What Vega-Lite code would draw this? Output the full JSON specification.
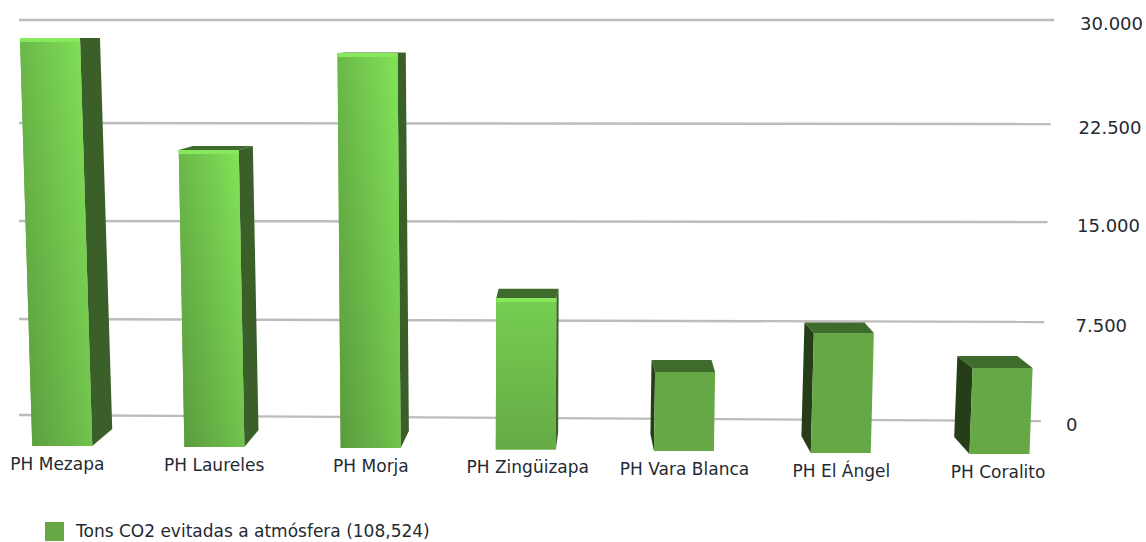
{
"$schema":"https://vega.github.io/schema/vega-lite/v6.json",
"width":1146,"height":542,"padding":0,"autosize":"none","background":"white",
"config":{"view":{"stroke":null},"axis":{"domain":false,"ticks":false}},
"datasets":{
"bars":[
{"p":"PH Mezapa","v":28689,"b":-2422,"s":"Tons CO2 evitadas a atmósfera (108,524)"},
{"p":"PH Laureles","v":20434,"b":-2500,"s":"Tons CO2 evitadas a atmósfera (108,524)"},
{"p":"PH Morja","v":27597,"b":-2578,"s":"Tons CO2 evitadas a atmósfera (108,524)"},
{"p":"PH Zingüizapa","v":9107,"b":-2690,"s":"Tons CO2 evitadas a atmósfera (108,524)"},
{"p":"PH Vara Blanca","v":3359,"b":-2812,"s":"Tons CO2 evitadas a atmósfera (108,524)"},
{"p":"PH El Ángel","v":6406,"b":-2969,"s":"Tons CO2 evitadas a atmósfera (108,524)"},
{"p":"PH Coralito","v":3672,"b":-3047,"s":"Tons CO2 evitadas a atmósfera (108,524)"}],
"grid":[
{"tick":30000,"end":30000,"label":"30.000"},
{"tick":22500,"end":22423,"label":"22.500"},
{"tick":15000,"end":14923,"label":"15.000"},
{"tick":7500,"end":7266,"label":"7.500"},
{"tick":0,"end":-469,"label":"0"}]
},
"layer":[
{"data":{"name":"grid"},"mark":{"type":"rule","color":"#bcbcbc","strokeWidth":2.4},
 "encoding":{"y":{"field":"tick","type":"quantitative","scale":{"domain":[0,7500,15000,22500,30000],"range":[415,319,221,123,20],"nice":false,"zero":false},"axis":null},
 "y2":{"field":"end"},"x":{"value":19},"x2":{"value":{"expr":"1041+datum.tick/30000*13"}}}},
{"data":{"name":"grid"},"mark":{"type":"text","align":"left","baseline":"middle","font":"DejaVu Sans","fontSize":18,"color":"#1f2a33","dy":5,"dx":{"expr":"datum.tick==0?-8:datum.tick/30000*6"}},
 "encoding":{"y":{"field":"end","type":"quantitative","axis":null},"x":{"value":1074},"text":{"field":"label"}}},
{"data":{"name":"bars"},"mark":{"type":"point","filled":true,"size":4,"opacity":1,"fill":{"expr":"scale('x',datum.p)+79.4<590?'#3a5f28':'#263e18'"},
 "shape":{"expr":"'M'+((scale('x',datum.p)+79.4)<590?30:-30)+' 0L'+(((scale('x',datum.p)+79.4)<590?30:-30)+(590-(scale('x',datum.p)+79.4))*0.037)+' '+(-(scale('y',datum.v)-38)*0.036)+'L'+(((scale('x',datum.p)+79.4)<590?30:-30)+(590-(scale('x',datum.p)+79.4))*0.037+(scale('y',datum.b)-scale('y',datum.v))*(480-(scale('x',datum.p)+79.4))*0.00007)+' '+((scale('y',datum.b)-scale('y',datum.v))-17)+'L'+(((scale('x',datum.p)+79.4)<590?30:-30)+(scale('y',datum.b)-scale('y',datum.v))*(480-(scale('x',datum.p)+79.4))*0.00007)+' '+(scale('y',datum.b)-scale('y',datum.v))+'Z'"}},
 "encoding":{"x":{"field":"p","type":"nominal","sort":null,"scale":{"type":"band","range":[-29.4,1082],"paddingInner":0,"paddingOuter":0},"axis":null},
 "y":{"field":"v","type":"quantitative","axis":null},"detail":{"field":"b"}}},
{"data":{"name":"bars"},"mark":{"type":"point","filled":true,"size":4,"opacity":1,"fill":"#3f6b2c",
 "shape":{"expr":"'M-30 0L30 0L'+(30+(590-(scale('x',datum.p)+79.4))*0.037)+' '+(-(scale('y',datum.v)-38)*0.036)+'L'+(-30+(590-(scale('x',datum.p)+79.4))*0.037)+' '+(-(scale('y',datum.v)-38)*0.036)+'Z'"}},
 "encoding":{"x":{"field":"p","type":"nominal","sort":null,"axis":null},"y":{"field":"v","type":"quantitative","axis":null}}},
{"data":{"name":"bars"},"mark":{"type":"point","filled":true,"size":4,"opacity":1,
 "shape":{"expr":"'M-30 0L30 0L'+(30+(scale('y',datum.b)-scale('y',datum.v))*(480-(scale('x',datum.p)+79.4))*0.00007)+' '+(scale('y',datum.b)-scale('y',datum.v))+'L'+(-30+(scale('y',datum.b)-scale('y',datum.v))*(480-(scale('x',datum.p)+79.4))*0.00007)+' '+(scale('y',datum.b)-scale('y',datum.v))+'Z'"}},
 "encoding":{"x":{"field":"p","type":"nominal","sort":null,"axis":null},"y":{"field":"v","type":"quantitative","axis":null},
 "color":{"field":"s","type":"nominal","scale":{"range":["#66a846"]},
  "legend":{"orient":"none","legendX":45,"legendY":522,"title":null,"symbolType":"square","symbolSize":361,"symbolOpacity":1,"symbolStrokeWidth":0,"labelFont":"DejaVu Sans","labelFontSize":17,"labelOffset":12,"labelColor":"#1f2a33","labelLimit":500,"padding":0,"rowPadding":0}}}},
{"data":{"name":"bars"},"transform":[{"filter":"datum.v>15000"}],"mark":{"type":"point","filled":true,"size":4,"opacity":1,
 "fill":{"gradient":"linear","x1":0,"y1":0.85,"x2":1,"y2":0.1,"stops":[{"offset":0,"color":"#5c9e3e"},{"offset":0.45,"color":"#6cbb4a"},{"offset":1,"color":"#82e257"}]},
 "shape":{"expr":"'M-30 0L30 0L'+(30+(scale('y',datum.b)-scale('y',datum.v))*(480-(scale('x',datum.p)+79.4))*0.00007)+' '+(scale('y',datum.b)-scale('y',datum.v))+'L'+(-30+(scale('y',datum.b)-scale('y',datum.v))*(480-(scale('x',datum.p)+79.4))*0.00007)+' '+(scale('y',datum.b)-scale('y',datum.v))+'Z'"}},
 "encoding":{"x":{"field":"p","type":"nominal","sort":null,"axis":null},"y":{"field":"v","type":"quantitative","axis":null}}},
{"data":{"name":"bars"},"transform":[{"filter":"datum.v<=15000&&datum.v>8000"}],"mark":{"type":"point","filled":true,"size":4,"opacity":1,
 "fill":{"gradient":"linear","x1":0.5,"y1":0,"x2":0.5,"y2":1,"stops":[{"offset":0,"color":"#76ce51"},{"offset":1,"color":"#66aa46"}]},
 "shape":{"expr":"'M-30 0L30 0L'+(30+(scale('y',datum.b)-scale('y',datum.v))*(480-(scale('x',datum.p)+79.4))*0.00007)+' '+(scale('y',datum.b)-scale('y',datum.v))+'L'+(-30+(scale('y',datum.b)-scale('y',datum.v))*(480-(scale('x',datum.p)+79.4))*0.00007)+' '+(scale('y',datum.b)-scale('y',datum.v))+'Z'"}},
 "encoding":{"x":{"field":"p","type":"nominal","sort":null,"axis":null},"y":{"field":"v","type":"quantitative","axis":null}}},
{"data":{"name":"bars"},"transform":[{"filter":"datum.v>8000"}],"mark":{"type":"point","filled":true,"size":4,"opacity":1,"fill":"#88e85c","shape":"M-30 0L30 0L30 4L-30 4Z"},
 "encoding":{"x":{"field":"p","type":"nominal","sort":null,"axis":null},"y":{"field":"v","type":"quantitative","axis":null}}},
{"data":{"name":"bars"},"mark":{"type":"text","align":"center","baseline":"middle","font":"DejaVu Sans","fontSize":17,"color":"#1f2a33","dy":19,"dx":{"expr":"(560-(scale('x',datum.p)+79.4))*0.0125+1"}},
 "encoding":{"x":{"field":"p","type":"nominal","sort":null,"axis":null},"y":{"field":"b","type":"quantitative","axis":null},"text":{"field":"p"}}}
]
}
